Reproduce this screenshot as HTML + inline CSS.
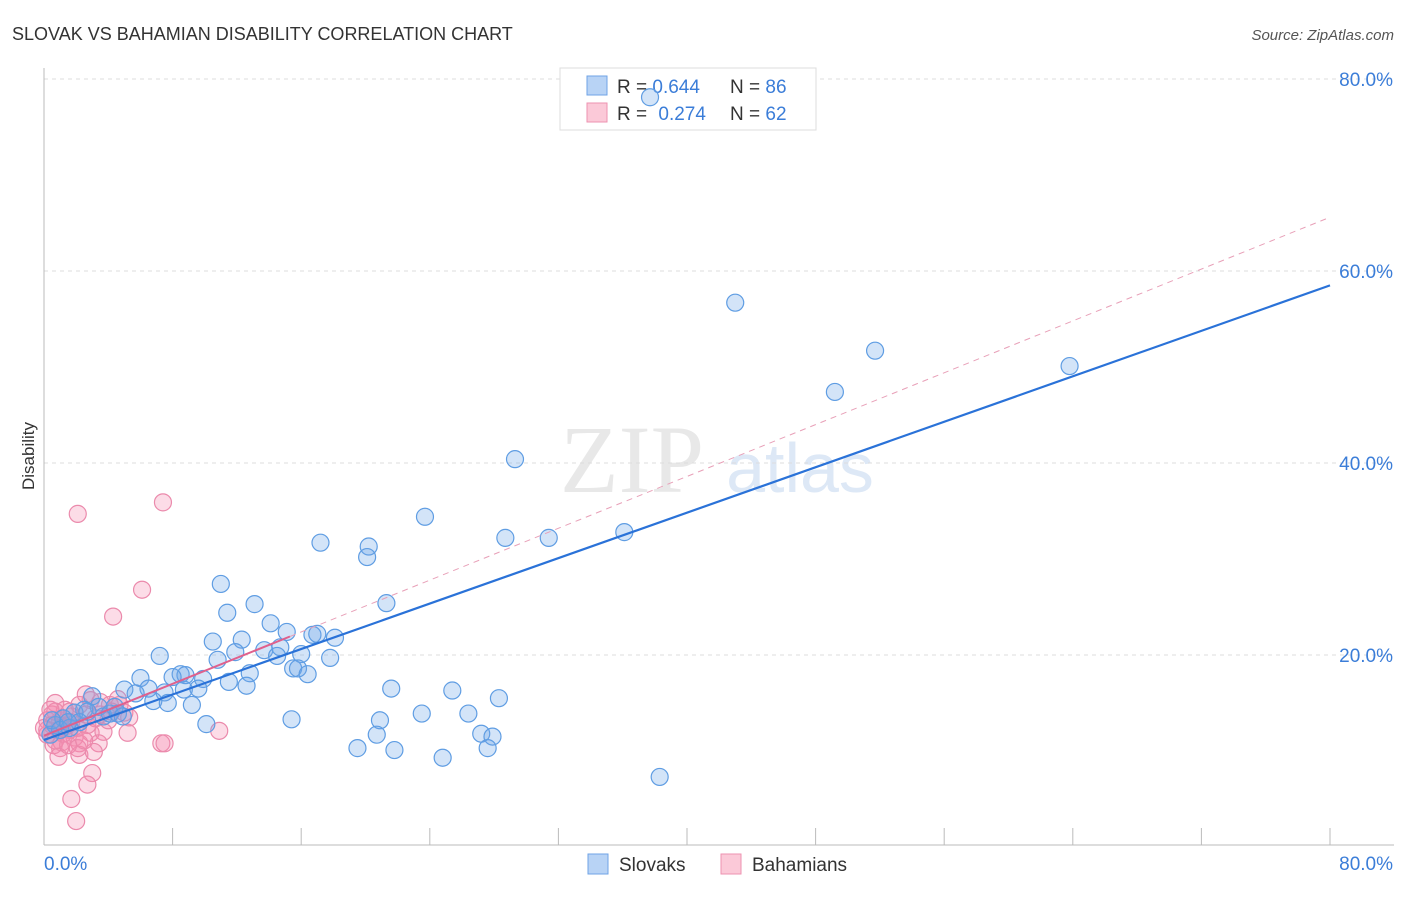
<!DOCTYPE html>
<html><head><meta charset="utf-8"><style>
body{margin:0;background:#fff;font-family:"Liberation Sans",sans-serif;}
svg text{font-family:"Liberation Sans",sans-serif;}
</style></head><body>
<svg id="chart" width="1406" height="892" viewBox="0 0 1406 892">
<text x="12" y="40" font-size="18" fill="#333">SLOVAK VS BAHAMIAN DISABILITY CORRELATION CHART</text>
<text x="1394" y="40" font-size="15" fill="#555" font-style="italic" text-anchor="end">Source: ZipAtlas.com</text>
<text x="34" y="456" font-size="17" fill="#333" transform="rotate(-90 34 456)" text-anchor="middle">Disability</text>
<g><text x="632" y="492" font-size="96" fill="#e8e8e8" text-anchor="middle" font-family="Liberation Serif" style="font-family:'Liberation Serif',serif">ZIP</text><text x="800" y="492" font-size="70" fill="#dde8f6" text-anchor="middle">atlas</text></g>
<g id="grid"></g><g id="axes"></g>
<g>
<rect x="560" y="68" width="256" height="62" fill="#fff" stroke="#ddd"/>
<rect x="587" y="76" width="20" height="19" fill="#b8d3f5" stroke="#6fa3e6"/>
<rect x="587" y="103" width="20" height="19" fill="#fbc9d8" stroke="#ee92b0"/>
<text x="617" y="93" font-size="19" fill="#333">R = <tspan fill="#3b7dd8">0.644</tspan><tspan x="730">N = </tspan><tspan fill="#3b7dd8">86</tspan></text>
<text x="617" y="120" font-size="19" fill="#333">R = <tspan fill="#3b7dd8" dx="6">0.274</tspan><tspan x="730">N = </tspan><tspan fill="#3b7dd8">62</tspan></text>
</g>
<g id="marks"></g><g id="lines"></g>
<g>
<rect x="588" y="854" width="20" height="20" fill="#b8d3f5" stroke="#6fa3e6"/>
<text x="619" y="871" font-size="19" fill="#333">Slovaks</text>
<rect x="721" y="854" width="20" height="20" fill="#fbc9d8" stroke="#ee92b0"/>
<text x="752" y="871" font-size="19" fill="#333">Bahamians</text>
</g>
</svg>
<script>
const yTicks=[20,40,60,80];
const yTickLabels=["20.0%","40.0%","60.0%","80.0%"];
const xEndLabels=["0.0%","80.0%"];
const slovakX=[43.0,51.7,49.2,63.8,29.3,23.7,28.7,31.4,36.1,17.2,20.2,20.1,11.0,21.3,13.1,11.4,14.1,15.1,16.7,17.0,18.1,10.5,12.3,7.2,11.9,13.7,14.7,14.5,16.0,17.8,10.8,15.5,15.8,16.4,12.8,6.0,8.5,8.8,9.9,8.0,11.5,12.6,5.0,6.5,5.7,7.5,8.7,9.6,6.8,7.7,9.2,3.0,21.6,25.4,28.3,15.4,10.1,20.9,23.5,26.4,27.2,27.9,20.7,19.5,21.8,27.6,24.8,38.3,37.7,3.4,3.7,4.1,4.6,2.5,1.9,1.2,0.7,0.4,0.5,1.0,1.6,2.7,4.4,4.9,2.2,1.5];
const slovakY=[56.7,51.7,47.4,50.1,40.4,34.4,32.2,32.2,32.8,31.7,31.3,30.2,27.4,25.4,25.3,24.4,23.3,22.4,22.1,22.2,21.8,21.4,21.6,19.9,20.3,20.5,20.8,19.9,20.1,19.7,19.5,18.6,18.6,18.0,18.1,17.6,18.0,17.9,17.5,17.7,17.2,16.8,16.4,16.5,16.0,16.1,16.4,16.5,15.2,15.0,14.8,15.7,16.5,16.3,15.5,13.3,12.8,13.2,13.9,13.9,11.8,11.5,11.7,10.3,10.1,10.3,9.3,7.3,78.1,14.6,13.6,13.9,13.9,14.3,14.0,13.4,12.7,11.7,13.2,12.2,12.4,14.1,14.6,13.6,13.0,13.0];
const bahamianX=[2.1,7.4,6.1,4.3,0.7,1.3,1.7,2.2,2.6,2.9,3.5,4.1,4.6,5.0,2.6,1.0,0.5,0.2,0.7,1.1,1.6,1.9,0.2,0.9,1.4,2.1,2.9,3.7,3.4,2.2,1.0,0.6,0.2,0.5,1.2,1.7,5.2,10.9,7.3,7.5,0.9,2.2,3.1,3.0,2.7,1.7,2.0,5.3,4.7,4.0,1.6,0.7,1.1,2.7,0.0,0.4,3.2,4.2,1.5,2.1,3.5,2.5];
const bahamianY=[34.7,35.9,26.8,24.0,15.0,14.3,13.6,14.8,15.9,15.3,15.1,14.8,15.4,14.0,13.8,13.2,12.7,11.7,11.1,10.9,12.2,11.4,13.2,12.2,12.6,12.4,11.9,12.0,10.8,10.8,10.3,10.6,12.2,13.8,11.8,13.0,11.9,12.1,10.8,10.8,9.4,9.6,9.9,7.7,6.5,5.0,2.7,13.5,14.8,13.2,14.1,14.1,12.4,12.7,12.4,14.3,13.4,14.1,10.6,10.3,13.8,11.1];
const slovakTrend=[11.15,0.5919];
const bahamianTrend=[11.6,0.675];
const bahamianSolidMax=15.3;

const NS="http://www.w3.org/2000/svg";
const X0=44,X1=1330,Y0=847,Y80=79;
const sx=v=>X0+(X1-X0)*v/80;
const sy=v=>Y0-(Y0-Y80)*v/80;
function mk(parent,tag,attrs){const e=document.createElementNS(NS,tag);for(const k in attrs)e.setAttribute(k,attrs[k]);document.getElementById(parent).appendChild(e);return e;}

yTicks.forEach((t,i)=>{
  const g=mk('grid','line',{x1:X0,x2:1394,y1:sy(t),y2:sy(t),stroke:'#ddd','stroke-dasharray':'4,4'});
  
  
  const l=mk('axes','text',{x:1393,y:sy(t)+7,'font-size':19,fill:'#3b7dd8','text-anchor':'end'});
  l.textContent=yTickLabels[i];
  
  
});
const ya=mk('axes','line',{x1:X0,x2:X0,y1:68,y2:845,stroke:'#bbb'});


const xa=mk('axes','line',{x1:X0,x2:1394,y1:845,y2:845,stroke:'#bbb'});


for(let i=0;i<=10;i++){
  const t=mk('axes','line',{x1:sx(i*8),x2:sx(i*8),y1:828,y2:845,stroke:'#bbb'});
  
  
}
const xl0=mk('axes','text',{x:44,y:870,'font-size':19,fill:'#3b7dd8'});
xl0.textContent=xEndLabels[0];


const xl1=mk('axes','text',{x:1393,y:870,'font-size':19,fill:'#3b7dd8','text-anchor':'end'});
xl1.textContent=xEndLabels[1];



bahamianX.forEach((x,i)=>{
  const c=mk('marks','circle',{cx:sx(x),cy:sy(bahamianY[i]),r:8.5,fill:'rgba(244,140,176,0.3)',stroke:'#eb8aac','stroke-width':1.2});
  
  
});
slovakX.forEach((x,i)=>{
  const c=mk('marks','circle',{cx:sx(x),cy:sy(slovakY[i]),r:8.5,fill:'rgba(110,165,232,0.3)',stroke:'#5f9de3','stroke-width':1.2});
  
  
});
const pd=mk('lines','line',{x1:sx(bahamianSolidMax),y1:sy(bahamianTrend[0]+bahamianTrend[1]*bahamianSolidMax),x2:sx(80),y2:sy(bahamianTrend[0]+bahamianTrend[1]*80),stroke:'#e8a0b8','stroke-width':1,'stroke-dasharray':'6,5'});


const ps=mk('lines','line',{x1:sx(0),y1:sy(bahamianTrend[0]),x2:sx(bahamianSolidMax),y2:sy(bahamianTrend[0]+bahamianTrend[1]*bahamianSolidMax),stroke:'#e0608c','stroke-width':2});


const bl=mk('lines','line',{x1:sx(0),y1:sy(slovakTrend[0]),x2:sx(80),y2:sy(slovakTrend[0]+slovakTrend[1]*80),stroke:'#2a72d8','stroke-width':2.2});


</script>
</body></html>
